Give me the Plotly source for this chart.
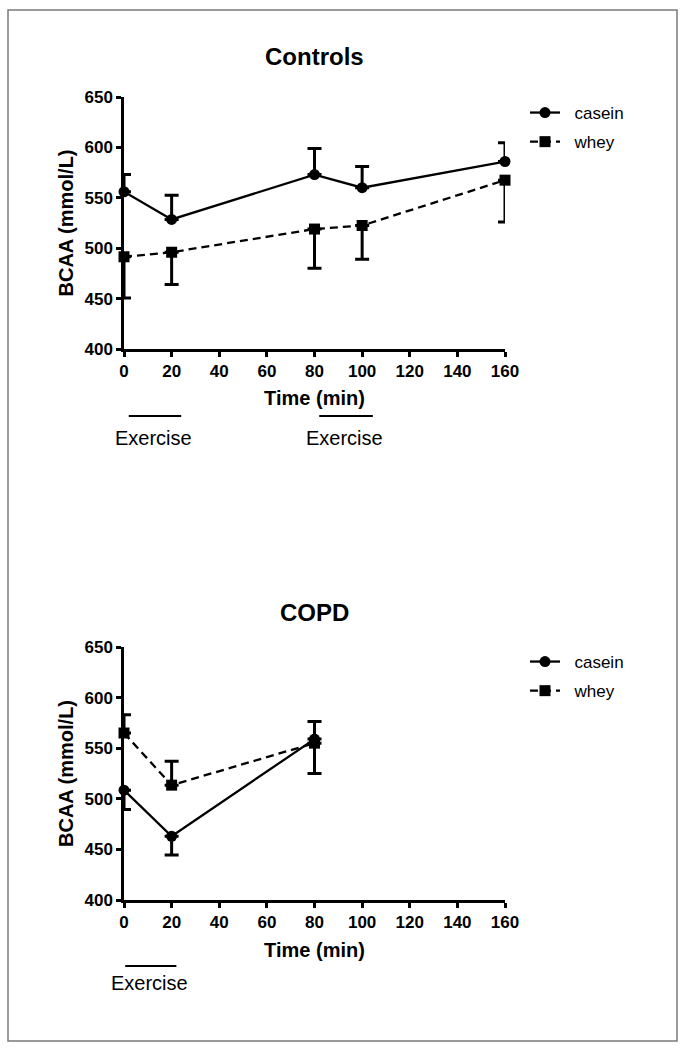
import plotly.graph_objects as go

# ---- data ----
time_controls = [0, 20, 80, 100, 160]
casein_controls = [556, 528.5, 573, 560, 586]
casein_controls_err = [17, 24, 26, 21, 18.5]      # upper SEM
whey_controls = [491.5, 496, 519, 522.5, 567.5]
whey_controls_err = [41, 32, 39, 33.5, 41.5]      # lower SEM

time_copd = [0, 20, 80]
casein_copd = [508.5, 463, 559]
casein_copd_err = [19, 18.5, 34]                  # lower SEM
whey_copd = [565, 513.5, 555]
whey_copd_err = [18, 23.5, 21.5]                  # upper SEM

x_ticks = [0, 20, 40, 60, 80, 100, 120, 140, 160]
y_ticks = [400, 450, 500, 550, 600, 650]

FONT = "Liberation Sans, Arial, sans-serif"
W, H = 684, 1050

def py(px):
    return 1 - px / H

def px_(p):
    return p / W

fig = go.Figure()

def add_series(x, y, err, up, name, dash, symbol, xa, ya, legend):
    fig.add_trace(go.Scatter(
        x=x, y=y, name="\u00a0\u00a0" + name, mode="lines+markers",
        xaxis=xa, yaxis=ya, legend=legend, legendgroup=name + legend,
        line=dict(color="black", width=2.3, dash=dash),
        marker=dict(color="black", symbol=symbol, size=11),
        error_y=dict(type="data", symmetric=False,
                     array=err if up else [0] * len(err),
                     arrayminus=[0] * len(err) if up else err,
                     color="black", thickness=3, width=7),
        cliponaxis=False,
    ))

dash_style = "8px,5px"
add_series(time_controls, casein_controls, casein_controls_err, True, "casein", "solid", "circle", "x", "y", "legend")
add_series(time_controls, whey_controls, whey_controls_err, False, "whey", dash_style, "square", "x", "y", "legend")
add_series(time_copd, casein_copd, casein_copd_err, False, "casein", "solid", "circle", "x2", "y2", "legend2")
add_series(time_copd, whey_copd, whey_copd_err, True, "whey", dash_style, "square", "x2", "y2", "legend2")

xdom = [px_(124), px_(505)]
axis_common = dict(
    showline=True, linecolor="black", linewidth=2.5,
    ticks="outside", ticklen=5, tickwidth=2.5, tickcolor="black",
    showgrid=False, zeroline=False, automargin=False,
    tickfont=dict(family=FONT, size=17, color="black", weight="bold"),
)
title_font = dict(family=FONT, size=20, color="black", weight="bold")
legend_common = dict(xanchor="left", yanchor="top",
                     font=dict(family=FONT, size=17, color="black"),
                     bgcolor="rgba(0,0,0,0)", traceorder="grouped", tracegroupgap=4)

fig.update_layout(
    width=W, height=H,
    margin=dict(l=0, r=0, t=0, b=0, autoexpand=False),
    paper_bgcolor="white", plot_bgcolor="white",
    xaxis=dict(domain=xdom, range=[0, 160], tickvals=x_ticks, anchor="y",
               title=dict(text="Time (min)", font=title_font, standoff=11), **axis_common),
    yaxis=dict(domain=[py(349), py(97)], range=[400, 650], tickvals=y_ticks, anchor="x",
               title=dict(text="BCAA (mmol/L)", font=title_font, standoff=6), **axis_common),
    xaxis2=dict(domain=xdom, range=[0, 160], tickvals=x_ticks, anchor="y2",
                title=dict(text="Time (min)", font=title_font, standoff=12), **axis_common),
    yaxis2=dict(domain=[py(900), py(647)], range=[400, 650], tickvals=y_ticks, anchor="x2",
                title=dict(text="BCAA (mmol/L)", font=title_font, standoff=6), **axis_common),
    legend=dict(x=px_(525), y=py(95), **legend_common),
    legend2=dict(x=px_(525), y=py(644), **legend_common),
    showlegend=True,
)

# Panel titles
for txt, yc in [("Controls", 57), ("COPD", 612)]:
    fig.add_annotation(text=txt, x=px_(314.5), y=py(yc), xref="paper", yref="paper",
                       xanchor="center", yanchor="middle", showarrow=False,
                       font=dict(family=FONT, size=24, color="black", weight="bold"))

# Exercise markers
exercise_top = [(2, 24), (82, 104.5)]
for x0, x1 in exercise_top:
    fig.add_shape(type="line", x0=x0, x1=x1, y0=py(416), y1=py(416), xref="x", yref="paper",
                  line=dict(color="black", width=2))
    fig.add_annotation(text="Exercise", x=(x0 + x1) / 2 - 0.5, y=py(438), xref="x", yref="paper",
                       xanchor="center", yanchor="middle", showarrow=False,
                       font=dict(family=FONT, size=20, color="black"))
exercise_bottom = [(0.5, 22)]
for x0, x1 in exercise_bottom:
    fig.add_shape(type="line", x0=x0, x1=x1, y0=py(966), y1=py(966), xref="x2", yref="paper",
                  line=dict(color="black", width=2))
    fig.add_annotation(text="Exercise", x=(x0 + x1) / 2 - 0.5, y=py(983), xref="x2", yref="paper",
                       xanchor="center", yanchor="middle", showarrow=False,
                       font=dict(family=FONT, size=20, color="black"))

# Outer frame
fig.add_shape(type="rect", x0=px_(8), x1=px_(677), y0=py(1041), y1=py(10),
              xref="paper", yref="paper", line=dict(color="#7a7a7a", width=1.5))

fig.write_html("out.html", config={"displayModeBar": False},
               post_script="document.body.style.margin='0';document.body.style.overflow='hidden';")
